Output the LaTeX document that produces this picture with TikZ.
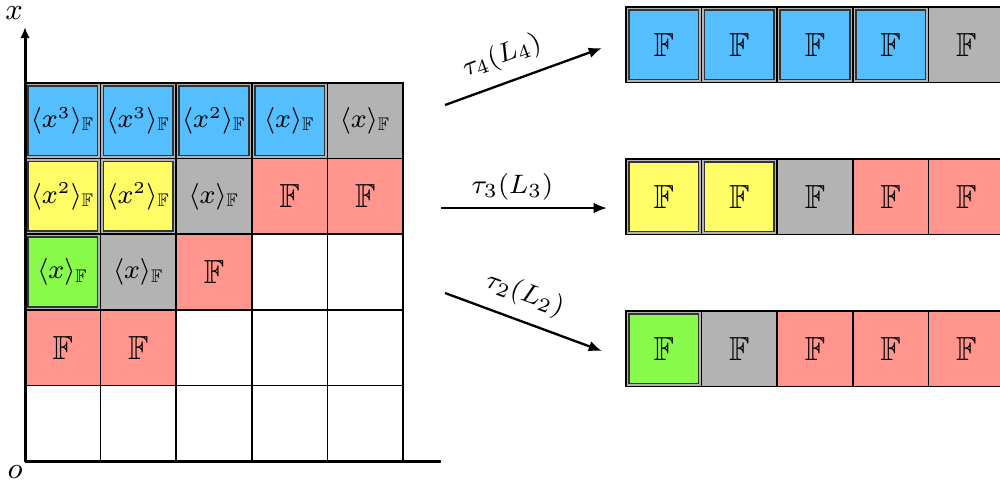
\documentclass[tikz,border=0pt]{standalone}
\usepackage{amssymb}
\usetikzlibrary{arrows.meta}
\definecolor{cblue}{RGB}{85,190,255}
\definecolor{cyellow}{RGB}{255,252,102}
\definecolor{cgreen}{RGB}{136,250,74}
\definecolor{cgray}{RGB}{179,179,179}
\definecolor{cred}{RGB}{255,149,140}
\begin{document}
\begin{tikzpicture}[x=0.3pt,y=-0.3pt,
  cell/.style={draw=black, line width=0.45pt, minimum width=22.68pt, minimum height=22.68pt,
    inner sep=0pt, outer sep=0pt, anchor=north west, font=\normalsize},
  wc/.style={cell, fill=white},
  gc/.style={cell, fill=cgray},
  rc/.style={cell, fill=cred},
  hl/.style={cell, fill=cgray, path picture={
     \draw[fill=#1, draw=black!80, line width=0.5pt]
       ([shift={(3,3)}]path picture bounding box.north west) rectangle
       ([shift={(-3,-3)}]path picture bounding box.south east);}},
  ang/.style={font=\fontsize{7.8}{9}\selectfont},
  axis/.style={line width=0.9pt},
  arr/.style={line width=0.7pt, -{Latex[length=4pt,width=3.2pt]}},
  lab/.style={font=\fontsize{8.5}{10}\selectfont, inner sep=2pt}
]
\useasboundingbox (0,0) rectangle (1000,486);
\clip (0,0) rectangle (1000,486);

% ---------- left grid ----------
% row 0
\node[hl=cblue, ang] (l00) at (25,83) {$\langle x^3\rangle_{\mathbb{F}}$};
\node[hl=cblue, ang] (l01) at (100.6,83) {$\langle x^3\rangle_{\mathbb{F}}$};
\node[hl=cblue, ang] (l02) at (176.2,83) {$\langle x^2\rangle_{\mathbb{F}}$};
\node[hl=cblue, ang] (l03) at (251.8,83) {$\langle x\rangle_{\mathbb{F}}$};
\node[gc, ang] (l04) at (327.4,83) {$\langle x\rangle_{\mathbb{F}}$};
% row 1
\node[hl=cyellow, ang] (l10) at (25,158.6) {$\langle x^2\rangle_{\mathbb{F}}$};
\node[hl=cyellow, ang] (l11) at (100.6,158.6) {$\langle x^2\rangle_{\mathbb{F}}$};
\node[gc, ang] (l12) at (176.2,158.6) {$\langle x\rangle_{\mathbb{F}}$};
\node[rc] (l13) at (251.8,158.6) {$\mathbb{F}$};
\node[rc] (l14) at (327.4,158.6) {$\mathbb{F}$};
% row 2
\node[hl=cgreen, ang] (l20) at (25,234.2) {$\langle x\rangle_{\mathbb{F}}$};
\node[gc, ang] (l21) at (100.6,234.2) {$\langle x\rangle_{\mathbb{F}}$};
\node[rc] (l22) at (176.2,234.2) {$\mathbb{F}$};
\node[wc] (l23) at (251.8,234.2) {};
\node[wc] (l24) at (327.4,234.2) {};
% row 3
\node[rc] (l30) at (25,309.8) {$\mathbb{F}$};
\node[rc] (l31) at (100.6,309.8) {$\mathbb{F}$};
\node[wc] (l32) at (176.2,309.8) {};
\node[wc] (l33) at (251.8,309.8) {};
\node[wc] (l34) at (327.4,309.8) {};
% row 4
\node[wc] (l40) at (25,385.4) {};
\node[wc] (l41) at (100.6,385.4) {};
\node[wc] (l42) at (176.2,385.4) {};
\node[wc] (l43) at (251.8,385.4) {};
\node[wc] (l44) at (327.4,385.4) {};

% ---------- axes ----------
\coordinate (o) at (25,461);
\coordinate (ytop) at (25,27);
\coordinate (xend) at (441,461);
\draw[axis] (o) -- (xend);
\draw[axis, -{Latex[length=3.3pt,width=2.8pt]}] (o) -- (ytop);
\node[font=\small] (xl) at (14,13) {$x$};
\node[font=\small] (ol) at (15,472) {$o$};

% ---------- right rows ----------
\node[hl=cblue] (a0) at (626,7) {$\mathbb{F}$};
\node[hl=cblue] (a1) at (701.6,7) {$\mathbb{F}$};
\node[hl=cblue] (a2) at (777.2,7) {$\mathbb{F}$};
\node[hl=cblue] (a3) at (852.8,7) {$\mathbb{F}$};
\node[gc] (a4) at (928.4,7) {$\mathbb{F}$};

\node[hl=cyellow] (b0) at (626,159) {$\mathbb{F}$};
\node[hl=cyellow] (b1) at (701.6,159) {$\mathbb{F}$};
\node[gc] (b2) at (777.2,159) {$\mathbb{F}$};
\node[rc] (b3) at (852.8,159) {$\mathbb{F}$};
\node[rc] (b4) at (928.4,159) {$\mathbb{F}$};

\node[hl=cgreen] (c0) at (626,311) {$\mathbb{F}$};
\node[gc] (c1) at (701.6,311) {$\mathbb{F}$};
\node[rc] (c2) at (777.2,311) {$\mathbb{F}$};
\node[rc] (c3) at (852.8,311) {$\mathbb{F}$};
\node[rc] (c4) at (928.4,311) {$\mathbb{F}$};

% ---------- arrows ----------
\coordinate (s4) at (445,105);
\coordinate (e4) at (602,48);
\coordinate (s3) at (441,208);
\coordinate (e3) at (607,208);
\coordinate (s2) at (445,293);
\coordinate (e2) at (602,351);
\draw[arr] (s4) -- node[lab, sloped, above=1.5pt, pos=0.42] (t4) {$\tau_4(L_4)$} (e4);
\draw[arr] (s3) -- node[lab, above, pos=0.43] (t3) {$\tau_3(L_3)$} (e3);
\draw[arr] (s2) -- node[lab, sloped, above=1.5pt, pos=0.45] (t2) {$\tau_2(L_2)$} (e2);
\end{tikzpicture}
\end{document}
